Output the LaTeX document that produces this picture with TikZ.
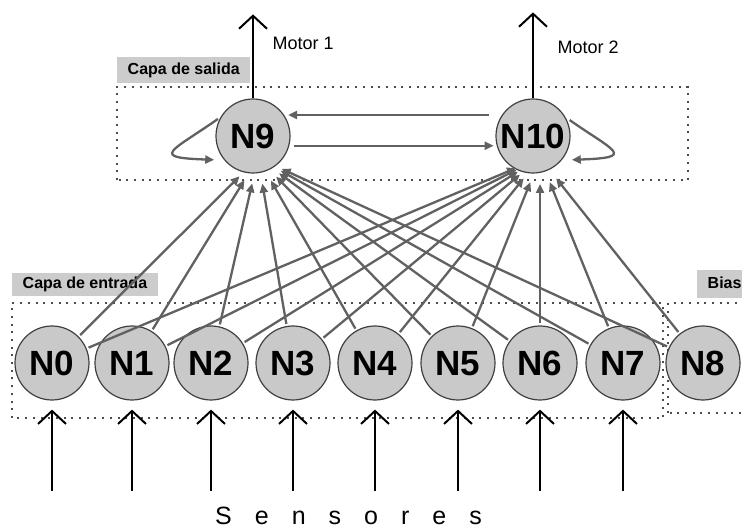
\documentclass[tikz,border=0pt]{standalone}
\usepackage{fontspec}
\setmainfont{Liberation Sans}
\newfontfamily\spaced[LetterSpace=92]{Liberation Sans}
\usetikzlibrary{arrows.meta,positioning}

\begin{document}
\begin{tikzpicture}[x=1pt, y=1pt,
	neuron/.style={circle, draw=black!75, line width=1.2pt, fill=black!21, minimum size=74pt, inner sep=0pt, text height=25pt, text depth=0pt, font=\fontsize{35}{35}\selectfont\bfseries},
	syn/.style={draw=black!62, line width=2.3pt, -{Triangle[length=9pt,width=8pt]}},
	signal/.style={line width=2pt, -{Straight Barb[length=13pt,width=28pt,line width=2pt]}},
	layer/.style={draw=black!70, line width=2pt, dash pattern=on 2pt off 5.7pt},
	tag/.style={fill=black!20, anchor=north west, inner xsep=10.5pt, inner ysep=0pt, text height=11.5pt, text depth=3.5pt, font=\fontsize{16}{16}\selectfont\bfseries}]
	\useasboundingbox (0,0) rectangle (742,528);
	\clip (0,0) rectangle (742,528);

	% layers
	\draw[layer] (117,348) rectangle (688,441);
	\draw[layer] (12,110) rectangle (663,225);
	\draw[layer] (668,115) rectangle (760,225);
	\node[tag, minimum height=26pt] (salida) at (117,471) {Capa de salida};
	\node[tag, minimum height=23pt] (entrada) at (12,255) {Capa de entrada};
	\node[tag, minimum height=28pt] (bias) at (697,258) {Bias};

	% neurons
	\foreach \i/\x in {0/52, 1/132, 2/211, 3/293, 4/375, 5/458, 6/540, 7/623, 8/703}
		\node[neuron] (n\i) at (\x,165) {N\i};
	\node[neuron] (n9)  at (253,392) {N9};
	\node[neuron] (n10) at (533,392) {N10};

	\coordinate (t9)  at ([xshift=5pt,yshift=-22pt]n9.center);
	\coordinate (t10) at ([xshift=7pt,yshift=-22pt]n10.center);
	\foreach \i in {0,...,8} {
		\draw[syn, shorten <=2pt, shorten >=26pt] (n\i) -- (t9);
		\draw[syn, shorten <=2pt, shorten >=26pt] (n\i) -- (t10);
	}

	\draw[syn, shorten <=13pt, shorten >=4pt] (n10.146) -- (n9.34);
	\draw[syn, shorten <=5pt, shorten >=3pt] (n9.-15) -- (n10.195);
	\draw[syn, shorten <=3pt, shorten >=10pt] (n9.150) to[out=215, in=178, out distance=60pt, in distance=75pt] (n9.220);
	\draw[syn, shorten <=5pt, shorten >=10pt] (n10.30) to[out=-35, in=2, out distance=60pt, in distance=75pt] (n10.-40);

	% motors and sensors
	\coordinate[above=84pt of n9] (m1);
	\coordinate[above=86pt of n10] (m2);
	\draw[signal] (n9) -- (m1);
	\draw[signal] (n10) -- (m2);
	\node[anchor=west, font=\fontsize{18}{18}\selectfont] (motor1) at (269,485) {Motor 1};
	\node[anchor=west, font=\fontsize{18}{18}\selectfont] (motor2) at (554,481) {Motor 2};

	\foreach \i in {0,...,7} {
		\coordinate[below=90pt of n\i] (s\i);
		\draw[signal, shorten >=9pt] (s\i) -- (n\i);
	}
	\node[anchor=base west, inner sep=0pt, font=\fontsize{25}{25}\selectfont\spaced] (sens) at (215,4) {Sensores};
\end{tikzpicture}
\end{document}
